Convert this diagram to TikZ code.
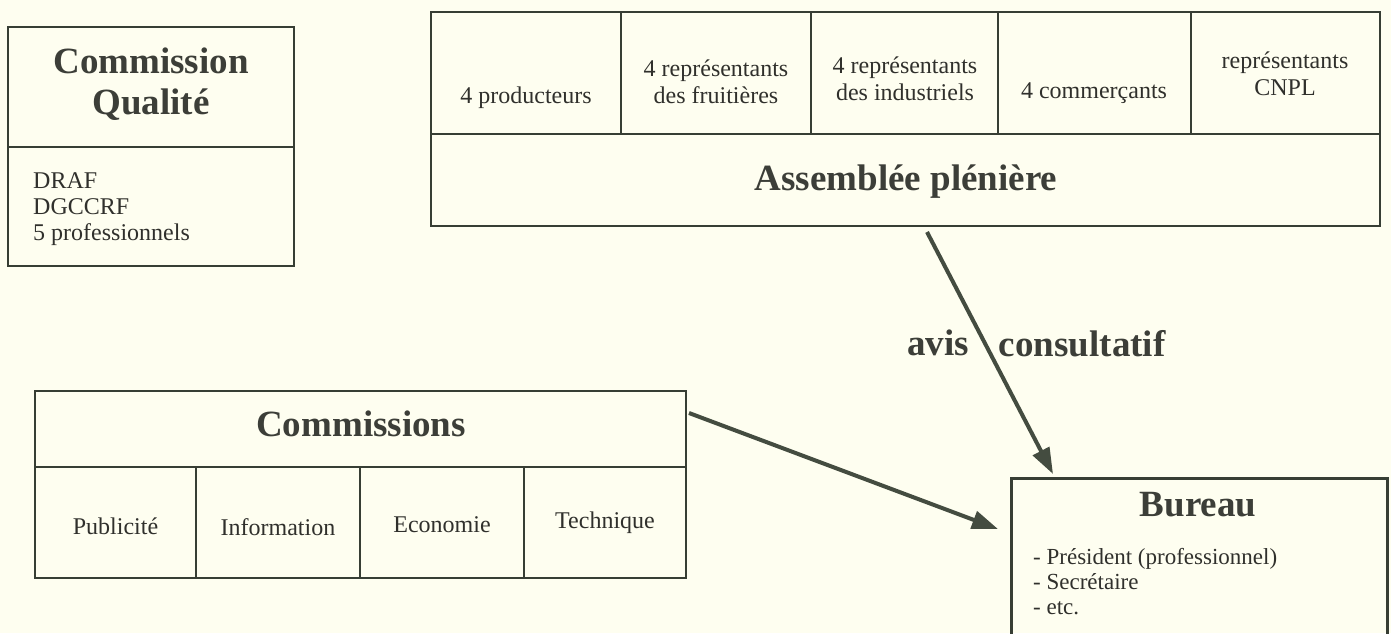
\documentclass[tikz,border=0pt]{standalone}
\usepackage{fontspec}
\setmainfont{Liberation Serif}
\usetikzlibrary{arrows.meta}
\definecolor{bgc}{RGB}{254,254,240}
\definecolor{linec}{RGB}{55,62,52}
\definecolor{arrc}{RGB}{68,76,64}
\definecolor{txtc}{RGB}{48,48,44}
\definecolor{boldc}{RGB}{60,62,56}
\begin{document}
\begin{tikzpicture}[x=1pt,y=-1pt,
  cell/.style={draw=linec, line width=2.5pt, inner sep=0pt},
  regtxt/.style={text=txtc, font=\fontsize{24}{27}\selectfont, inner sep=0pt, align=center},
  boldtxt/.style={text=boldc, font=\fontsize{37}{41}\selectfont\bfseries, inner sep=0pt, align=center},
  arr/.style={draw=arrc, line width=4pt, -{Triangle[length=26pt,width=18pt]}}]
\fill[bgc] (0,0) rectangle (1391,633);
\clip (0,0) rectangle (1391,633);

% Commission Qualite
\node[cell, minimum width=286pt, minimum height=120pt] (cqtop) at (151,87) {};
\node[cell, minimum width=286pt, minimum height=119pt] (cqbot) at (151,206.5) {};
\node[boldtxt] (cqtitle) at (151,84) {Commission\\Qualité};
\node[regtxt, align=left, anchor=west, font=\fontsize{24}{26}\selectfont] (cqlist) at (33,209) {DRAF\\DGCCRF\\5 professionnels};

% Assemblee pleniere
\node[cell, minimum width=190pt, minimum height=122pt] (ap1) at (526,73) {};
\node[cell, minimum width=190pt, minimum height=122pt] (ap2) at (716,73) {};
\node[cell, minimum width=187pt, minimum height=122pt] (ap3) at (904.5,73) {};
\node[cell, minimum width=193pt, minimum height=122pt] (ap4) at (1094.5,73) {};
\node[cell, minimum width=189pt, minimum height=122pt] (ap5) at (1285.5,73) {};
\node[cell, minimum width=949pt, minimum height=92pt] (apbot) at (905.5,180) {};
\node[regtxt] (t1) at (526,98) {4 producteurs};
\node[regtxt] (t2) at (716,82) {4 représentants\\des fruitières};
\node[regtxt] (t3) at (905,79) {4 représentants\\des industriels};
\node[regtxt] (t4) at (1094,93) {4 commerçants};
\node[regtxt] (t5) at (1285,74) {représentants\\CNPL};
\node[boldtxt] (aptitle) at (906,182) {Assemblée plénière};

% Commissions
\node[cell, minimum width=651pt, minimum height=76pt] (comtop) at (360.5,429) {};
\node[boldtxt] (comtitle) at (361,424) {Commissions};
\node[cell, minimum width=161pt, minimum height=111pt] (p1) at (115.5,522.5) {};
\node[cell, minimum width=164pt, minimum height=111pt] (p2) at (278,522.5) {};
\node[cell, minimum width=164pt, minimum height=111pt] (p3) at (442,522.5) {};
\node[cell, minimum width=162pt, minimum height=111pt] (p4) at (605,522.5) {};
\node[regtxt] (pt1) at (115.5,526) {Publicité};
\node[regtxt] (pt2) at (278,527) {Information};
\node[regtxt] (pt3) at (442,525) {Economie};
\node[regtxt] (pt4) at (605,523) {Technique};

% Bureau
\node[cell, minimum width=376pt, minimum height=200pt, anchor=north west] (bureau) at (1010,477) {};
\node[boldtxt] (burtitle) at (1198,505) {Bureau};
\node[regtxt, align=left, anchor=west, font=\fontsize{23}{25}\selectfont] (burlist) at (1033,582) {- Président (professionnel)\\- Secrétaire\\- etc.};

% Connectors
\coordinate (a1s) at (927,232);
\coordinate (a1e) at (1053,474);
\coordinate (a2s) at (689,413);
\coordinate (a2e) at (998,529);
\draw[arr] (a1s) -- node[pos=0.46, anchor=east, boldtxt, xshift=-14pt] (lavis) {avis}
                     node[pos=0.46, anchor=west, boldtxt, xshift=12pt] (lcons) {consultatif} (a1e);
\draw[arr] (a2s) -- (a2e);
\end{tikzpicture}
\end{document}
